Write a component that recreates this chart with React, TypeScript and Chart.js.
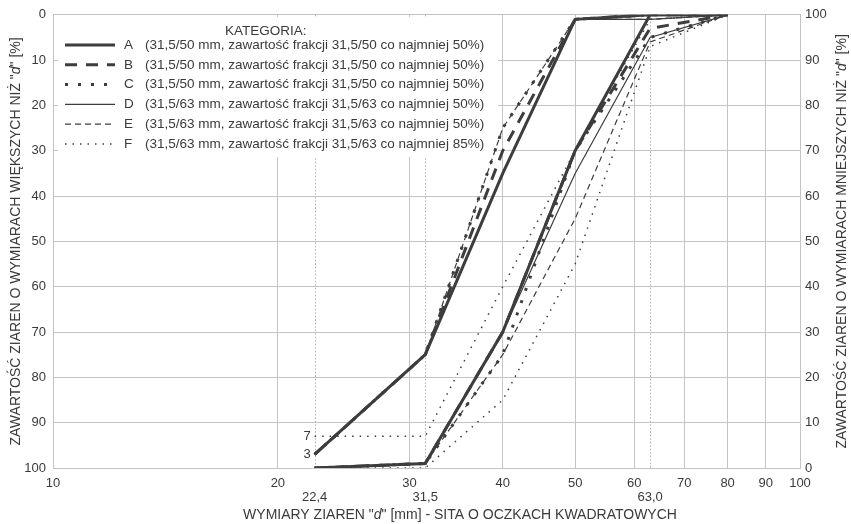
import React, { useEffect, useRef } from "react";
import { Chart, registerables } from "chart.js";

Chart.register(...registerables);

// ---------- data ----------
const SIEVES = [22.4, 31.5, 40, 50, 63, 80];
const CATEGORIES = ["A", "B", "C", "D", "E", "F"];
const DESCRIPTIONS = [
  "(31,5/50 mm, zawartość frakcji 31,5/50 co najmniej 50%)",
  "(31,5/50 mm, zawartość frakcji 31,5/50 co najmniej 50%)",
  "(31,5/50 mm, zawartość frakcji 31,5/50 co najmniej 50%)",
  "(31,5/63 mm, zawartość frakcji 31,5/63 co najmniej 50%)",
  "(31,5/63 mm, zawartość frakcji 31,5/63 co najmniej 50%)",
  "(31,5/63 mm, zawartość frakcji 31,5/63 co najmniej 85%)",
];
// passing % (upper and lower bound) for each category at SIEVES
const A_MAX = [3, 25, 65, 99, 100, 100];
const A_MIN = [0, 1, 30, 70, 100, 100];
const B_MAX = [3, 25, 70, 99, 100, 100];
const B_MIN = [0, 1, 30, 70, 97, 100];
const C_MAX = [3, 25, 75, 99, 100, 100];
const C_MIN = [0, 1, 25, 70, 95, 100];
const D_MAX = [3, 25, 65, 99, 99, 100];
const D_MIN = [0, 1, 30, 65, 95, 100];
const E_MAX = [3, 25, 75, 99, 99, 100];
const E_MIN = [0, 1, 25, 55, 94, 100];
const F_MAX = [7, 7, 40, 70, 99, 100];
const F_MIN = [0, 0, 15, 45, 93, 100];
const BOUNDS = [
  [A_MAX, A_MIN],
  [B_MAX, B_MIN],
  [C_MAX, C_MIN],
  [D_MAX, D_MIN],
  [E_MAX, E_MIN],
  [F_MAX, F_MIN],
];

const X_TICKS = [10, 20, 30, 40, 50, 60, 70, 80, 90, 100];
const EXTRA_X_VALUES = [22.4, 31.5, 63];
const EXTRA_X_LABELS = ["22,4", "31,5", "63,0"];
const NOTE_VALUES = [7, 3];
const NOTE_LABELS = ["7", "3"];

const LEGEND_TITLE = "KATEGORIA:";
const LEFT_TITLE = [
  { t: "ZAWARTOŚĆ ZIAREN O WYMIARACH WIĘKSZYCH NIŻ \"", i: false },
  { t: "d", i: true },
  { t: "\" [%]", i: false },
];
const RIGHT_TITLE = [
  { t: "ZAWARTOŚĆ ZIAREN O WYMIARACH MNIEJSZYCH NIŻ \"", i: false },
  { t: "d", i: true },
  { t: "\" [%]", i: false },
];
const BOTTOM_TITLE = [
  { t: "WYMIARY ZIAREN \"", i: false },
  { t: "d", i: true },
  { t: "\" [mm] - SITA O OCZKACH KWADRATOWYCH", i: false },
];

// ---------- styles ----------
const FONT = "'Liberation Sans', Arial, sans-serif";
const LINE = "#3d3d3d";
const TEXT = "#3a3a3a";
const GRID = "#c4c4c4";
const STYLES = [
  { width: 3, dash: [] as number[] },
  { width: 3, dash: [12, 9] },
  { width: 3, dash: [3, 10] },
  { width: 1.2, dash: [] as number[] },
  { width: 1.2, dash: [6, 4] },
  { width: 1.5, dash: [1.5, 6] },
];

function drawMixed(ctx: CanvasRenderingContext2D, segs: { t: string; i: boolean }[], cx: number, cy: number, rot: number, size: number) {
  ctx.save();
  ctx.translate(cx, cy);
  ctx.rotate(rot);
  ctx.fillStyle = TEXT;
  ctx.textBaseline = "middle";
  ctx.textAlign = "left";
  let total = 0;
  const widths = segs.map((s) => {
    ctx.font = `${s.i ? "italic " : ""}${size}px ${FONT}`;
    const w = ctx.measureText(s.t).width;
    total += w;
    return w;
  });
  let x = -total / 2;
  segs.forEach((s, k) => {
    ctx.font = `${s.i ? "italic " : ""}${size}px ${FONT}`;
    ctx.fillText(s.t, x, 0);
    x += widths[k];
  });
  ctx.restore();
}

const decorPlugin = {
  id: "decor",
  beforeDatasetsDraw(chart: any) {
    const ctx: CanvasRenderingContext2D = chart.ctx;
    const xs = chart.scales.x;
    const area = chart.chartArea;
    ctx.save();
    // dotted sieve lines
    ctx.strokeStyle = "#b0b0b0";
    ctx.lineWidth = 1;
    ctx.setLineDash([1.5, 2]);
    EXTRA_X_VALUES.forEach((v) => {
      const px = Math.round(xs.getPixelForValue(v)) + 0.5;
      ctx.beginPath();
      ctx.moveTo(px, area.top);
      ctx.lineTo(px, area.bottom);
      ctx.stroke();
    });
    ctx.setLineDash([]);
    // legend box
    ctx.fillStyle = "#ffffff";
    ctx.fillRect(58, 17, 440, 140);
    // legend title
    ctx.fillStyle = TEXT;
    ctx.font = `13.5px ${FONT}`;
    ctx.textBaseline = "middle";
    ctx.textAlign = "left";
    ctx.fillText(LEGEND_TITLE, 225, 31);
    CATEGORIES.forEach((c, k) => {
      const y = 45 + k * 19.8;
      const st = STYLES[k];
      ctx.strokeStyle = LINE;
      ctx.lineWidth = st.width;
      ctx.setLineDash(st.dash);
      ctx.beginPath();
      ctx.moveTo(65, y);
      ctx.lineTo(115, y);
      ctx.stroke();
      ctx.setLineDash([]);
      ctx.fillStyle = TEXT;
      ctx.fillText(c, 124, y);
      ctx.fillText(DESCRIPTIONS[k], 145, y);
    });
    ctx.restore();
  },
  afterDraw(chart: any) {
    const ctx: CanvasRenderingContext2D = chart.ctx;
    const xs = chart.scales.x;
    const yr = chart.scales.yR;
    const area = chart.chartArea;
    ctx.save();
    ctx.fillStyle = TEXT;
    ctx.font = `13px ${FONT}`;
    ctx.textAlign = "center";
    ctx.textBaseline = "middle";
    EXTRA_X_VALUES.forEach((v, k) => {
      ctx.fillText(EXTRA_X_LABELS[k], xs.getPixelForValue(v), 497);
    });
    ctx.textAlign = "right";
    NOTE_VALUES.forEach((v, k) => {
      ctx.fillText(NOTE_LABELS[k], xs.getPixelForValue(SIEVES[0]) - 4, yr.getPixelForValue(v));
    });
    ctx.restore();
    const midY = (area.top + area.bottom) / 2;
    drawMixed(ctx, LEFT_TITLE, 16, midY, -Math.PI / 2, 14);
    drawMixed(ctx, RIGHT_TITLE, 842, midY, -Math.PI / 2, 14);
    drawMixed(ctx, BOTTOM_TITLE, 460, 515, 0, 14);
  },
};

export default function App() {
  const ref = useRef<HTMLCanvasElement | null>(null);
  useEffect(() => {
    if (!ref.current) return;
    const datasets: any[] = [];
    CATEGORIES.forEach((c, k) => {
      const st = STYLES[k];
      BOUNDS[k].forEach((arr, b) => {
        datasets.push({
          label: `${c} ${b === 0 ? "max" : "min"}`,
          data: SIEVES.map((x, j) => ({ x, y: arr[j] })),
          xAxisID: "x",
          yAxisID: "yR",
          borderColor: LINE,
          backgroundColor: LINE,
          borderWidth: st.width,
          borderDash: st.dash,
          pointRadius: 0,
          fill: false,
          tension: 0,
        });
      });
    });
    const tickFont = { family: FONT, size: 13 };
    const chart = new Chart(ref.current, {
      type: "line",
      data: { datasets },
      options: {
        animation: false,
        responsive: false,
        maintainAspectRatio: false,
        layout: { padding: { top: 13, left: 0, right: 0, bottom: 0 } },
        plugins: { legend: { display: false }, tooltip: { enabled: false }, title: { display: false } },
        scales: {
          x: {
            type: "logarithmic",
            min: 10,
            max: 100,
            afterBuildTicks: (s: any) => {
              s.ticks = X_TICKS.map((v) => ({ value: v }));
            },
            afterFit: (s: any) => {
              s.height = 56;
            },
            ticks: {
              callback: (v: any) => String(v),
              autoSkip: false,
              maxRotation: 0,
              padding: 8,
              font: tickFont,
              color: TEXT,
            },
            grid: { color: GRID, drawTicks: false },
            border: { color: GRID },
          },
          yL: {
            type: "linear",
            position: "left",
            reverse: true,
            min: 0,
            max: 100,
            afterFit: (s: any) => {
              s.width = 53;
            },
            ticks: { stepSize: 10, padding: 7, font: tickFont, color: TEXT },
            grid: { color: GRID, drawTicks: false },
            border: { color: GRID },
          },
          yR: {
            type: "linear",
            position: "right",
            min: 0,
            max: 100,
            afterFit: (s: any) => {
              s.width = 51;
            },
            ticks: { stepSize: 10, padding: 5, font: tickFont, color: TEXT },
            grid: { drawOnChartArea: false, drawTicks: false },
            border: { color: GRID },
          },
        },
      } as any,
      plugins: [decorPlugin],
    });
    return () => chart.destroy();
  }, []);
  return (
    <div style={{ position: "absolute", left: 0, top: 0, width: 851, height: 524, background: "#fff" }}>
      <canvas ref={ref} width={851} height={524} style={{ width: 851, height: 524 }} />
    </div>
  );
}
